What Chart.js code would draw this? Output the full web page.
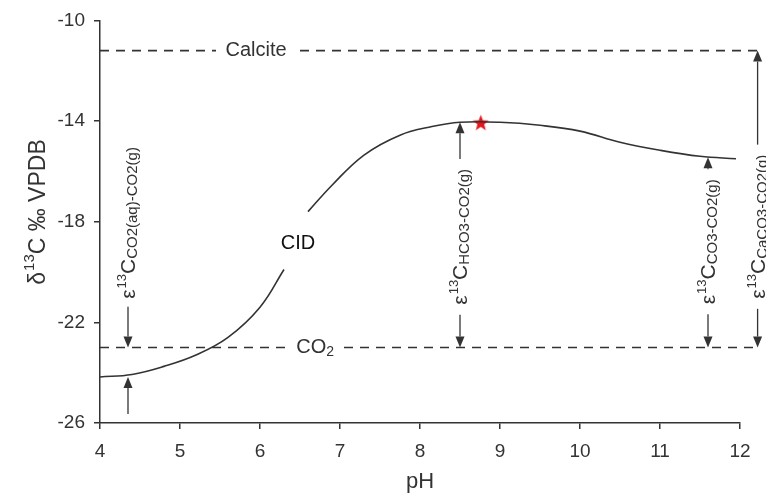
<!DOCTYPE html>
<html>
<head>
<meta charset="utf-8">
<script src="https://cdn.jsdelivr.net/npm/chart.js@4.4.1/dist/chart.umd.min.js"></script>
<style>
  html, body { margin: 0; padding: 0; background: #fff; }
</style>
</head>
<body>
<canvas id="cidChart" width="766" height="493"></canvas>
<script>
// tick labels
var xTicks = [4, 5, 6, 7, 8, 9, 10, 11, 12];
var yTicks = [-10, -14, -18, -22, -26];

// CID curve (gap left open for the "CID" label)
var curvePH   = [4.0, 4.4, 4.8, 5.2, 5.6, 6.0, 6.3, 6.45, 6.6, 6.9, 7.3, 7.75, 8.15, 8.5, 9.0, 9.5, 10.0, 10.5, 11.0, 11.5, 11.95];
var curveD13C = [-24.17, -24.07, -23.75, -23.3, -22.6, -21.4, -19.9, null, -17.6, -16.55, -15.35, -14.56, -14.22, -14.05, -14.05, -14.17, -14.4, -14.84, -15.16, -15.4, -15.5];

// dashed levels
var calcitePH   = [4.0, 5.45, 5.9, 6.5, 12.22];
var calciteD13C = [-11.2, -11.2, null, -11.2, -11.2];
var co2PH   = [4.0, 6.33, 6.7, 7.05, 12.22];
var co2D13C = [-23.0, -23.0, null, -23.0, -23.0];

// red star
var starPH = [8.76];
var starD13C = [-14.05];

// epsilon arrows
var arrowPH      = [4.35, 8.5, 11.6, 12.22];
var arrowTop     = [-23.0, -14.05, -15.44, -11.2];
var arrowBottom  = [-24.17, -23.0, -23.0, -23.0];
var arrowLabelAt = [-18.05, -18.6, -18.8, -18.2];
var arrowSub     = ['CO2(aq)-CO2(g)', 'HCO3-CO2(g)', 'CO3-CO2(g)', 'CaCO3-CO2(g)'];
var arrowOutside = [true, false, false, false];

var ink = '#333';

function pairs(xs, ys) {
	var out = [];
	for (var i = 0; i < xs.length; i++) out.push({ x: xs[i], y: ys[i] });
	return out;
}

function makeStar(size, color) {
	var c = document.createElement('canvas');
	c.width = size; c.height = size;
	var g = c.getContext('2d');
	var r = size / 2, ri = r * 0.42;
	g.beginPath();
	for (var i = 0; i < 10; i++) {
		var a = -Math.PI / 2 + i * Math.PI / 5;
		var rr = (i % 2) ? ri : r;
		g.lineTo(r + rr * Math.cos(a), r + 1 + rr * Math.sin(a));
	}
	g.closePath();
	g.fillStyle = color;
	g.fill();
	return c;
}

// draw "ε13C" + subscript, rotated, centred on (x, y)
function epsLabel(ctx, x, y, sub) {
	var big = '21px "Liberation Sans", Arial, sans-serif';
	var sup = '13px "Liberation Sans", Arial, sans-serif';
	var sml = '15px "Liberation Sans", Arial, sans-serif';
	ctx.font = big; var w1 = ctx.measureText('\u03b5').width + 1;
	ctx.font = sup; var w2 = ctx.measureText('13').width;
	ctx.font = big; var w3 = ctx.measureText('C').width;
	ctx.font = sml; var w4 = ctx.measureText(sub).width;
	var w = w1 + w2 + w3 + w4;
	ctx.save();
	ctx.translate(x, y);
	ctx.rotate(-Math.PI / 2);
	ctx.fillStyle = ink;
	ctx.textBaseline = 'alphabetic';
	var p = -w / 2;
	ctx.font = big; ctx.fillText('\u03b5', p, 7); p += w1;
	ctx.font = sup; ctx.fillText('13', p, -2); p += w2;
	ctx.font = big; ctx.fillText('C', p, 7); p += w3;
	ctx.font = sml; ctx.fillText(sub, p, 9);
	ctx.restore();
	return w;
}

function arrowLine(ctx, x, yFrom, yTip) {
	var dir = yTip > yFrom ? 1 : -1;
	var head = 11, half = 4.5;
	ctx.beginPath();
	ctx.moveTo(x, yFrom);
	ctx.lineTo(x, yTip - dir * head);
	ctx.stroke();
	ctx.beginPath();
	ctx.moveTo(x, yTip);
	ctx.lineTo(x - half, yTip - dir * head);
	ctx.lineTo(x + half, yTip - dir * head);
	ctx.closePath();
	ctx.fill();
}

var annotations = {
	id: 'annotations',
	afterDatasetsDraw: function(chart) {
		var ctx = chart.ctx;
		var xs = chart.scales.x, ys = chart.scales.y;
		ctx.save();
		ctx.strokeStyle = ink;
		ctx.fillStyle = ink;
		ctx.lineWidth = 1.3;
		for (var i = 0; i < arrowPH.length; i++) {
			var px = xs.getPixelForValue(arrowPH[i]);
			var pTop = ys.getPixelForValue(arrowTop[i]);
			var pBot = ys.getPixelForValue(arrowBottom[i]);
			var pLab = ys.getPixelForValue(arrowLabelAt[i]);
			var w = epsLabel(ctx, px, pLab, arrowSub[i]);
			ctx.fillStyle = ink;
			if (arrowOutside[i]) {
				arrowLine(ctx, px, pLab + w / 2 + 8, pTop);
				arrowLine(ctx, px, pBot + 37, pBot);
			} else {
				arrowLine(ctx, px, pLab - w / 2 - 10, pTop);
				arrowLine(ctx, px, pLab + w / 2 + 10, pBot);
			}
		}
		// level and curve labels
		ctx.fillStyle = ink;
		ctx.textBaseline = 'middle';
		ctx.textAlign = 'center';
		ctx.font = '20px "Liberation Sans", Arial, sans-serif';
		ctx.fillText('Calcite', xs.getPixelForValue(5.95), ys.getPixelForValue(-11.2));
		var cx = xs.getPixelForValue(6.69), cy = ys.getPixelForValue(-23.0);
		ctx.textAlign = 'left';
		var wCO = ctx.measureText('CO').width;
		ctx.font = '14px "Liberation Sans", Arial, sans-serif';
		var w2 = ctx.measureText('2').width;
		var start = cx - (wCO + w2) / 2;
		ctx.font = '20px "Liberation Sans", Arial, sans-serif';
		ctx.fillText('CO', start, cy);
		ctx.font = '14px "Liberation Sans", Arial, sans-serif';
		ctx.fillText('2', start + wCO, cy + 5);
		ctx.fillStyle = '#111';
		ctx.textAlign = 'center';
		ctx.font = '20px "Liberation Sans", Arial, sans-serif';
		ctx.fillText('CID', xs.getPixelForValue(6.475), ys.getPixelForValue(-18.85));
		// y axis title
		ctx.save();
		ctx.translate(37, 212);
		ctx.rotate(-Math.PI / 2);
		ctx.fillStyle = ink;
		ctx.textAlign = 'left';
		ctx.textBaseline = 'alphabetic';
		var fBig = '23px "Liberation Sans", Arial, sans-serif';
		var fSup = '15px "Liberation Sans", Arial, sans-serif';
		ctx.font = fBig; var a = ctx.measureText('\u03b4').width + 1;
		ctx.font = fSup; var b = ctx.measureText('13').width;
		ctx.font = fBig; var c = ctx.measureText('C \u2030 VPDB').width;
		var p = -(a + b + c) / 2;
		ctx.font = fBig; ctx.fillText('\u03b4', p, 8); p += a;
		ctx.font = fSup; ctx.fillText('13', p, -3); p += b;
		ctx.font = fBig; ctx.fillText('C \u2030 VPDB', p, 8);
		ctx.restore();
		ctx.restore();
	}
};

var axisFont = { family: '"Liberation Sans", Arial, sans-serif', size: 19 };

new Chart(document.getElementById('cidChart'), {
	type: 'line',
	data: {
		datasets: [{
			data: pairs(curvePH, curveD13C),
			borderColor: ink,
			borderWidth: 1.6,
			pointRadius: 0,
			spanGaps: false,
			tension: 0.4
		}, {
			data: pairs(calcitePH, calciteD13C),
			borderColor: ink,
			borderWidth: 1.6,
			borderDash: [9, 7],
			pointRadius: 0,
			spanGaps: false,
			clip: false
		}, {
			data: pairs(co2PH, co2D13C),
			borderColor: ink,
			borderWidth: 1.6,
			borderDash: [9, 7],
			pointRadius: 0,
			spanGaps: false,
			clip: false
		}, {
			data: pairs(starPH, starD13C),
			showLine: false,
			pointStyle: makeStar(17, '#e8141c'),
			pointRadius: 8
		}]
	},
	options: {
		responsive: false,
		animation: false,
		layout: { padding: { top: 20, right: 26, bottom: 0, left: 0 } },
		plugins: { legend: { display: false }, tooltip: { enabled: false } },
		scales: {
			x: {
				type: 'linear',
				min: 4,
				max: 12,
				afterBuildTicks: function(s) { s.ticks = xTicks.map(function(v) { return { value: v }; }); },
				afterFit: function(s) { s.height = 70; },
				ticks: { color: ink, font: axisFont, padding: 11 },
				grid: { drawOnChartArea: false, drawTicks: true, tickLength: 6, color: ink, lineWidth: 1.5 },
				border: { color: ink, width: 1.5 },
				title: { display: true, text: 'pH', color: ink, font: { family: axisFont.family, size: 22, lineHeight: 1 }, padding: 0 }
			},
			y: {
				min: -26,
				max: -10,
				afterBuildTicks: function(s) { s.ticks = yTicks.map(function(v) { return { value: v }; }); },
				afterFit: function(s) { s.width = 100; },
				ticks: { color: ink, font: axisFont, padding: 9 },
				grid: { drawOnChartArea: false, drawTicks: true, tickLength: 6, color: ink, lineWidth: 1.5 },
				border: { color: ink, width: 1.5 }
			}
		}
	},
	plugins: [annotations]
});
</script>
</body>
</html>
